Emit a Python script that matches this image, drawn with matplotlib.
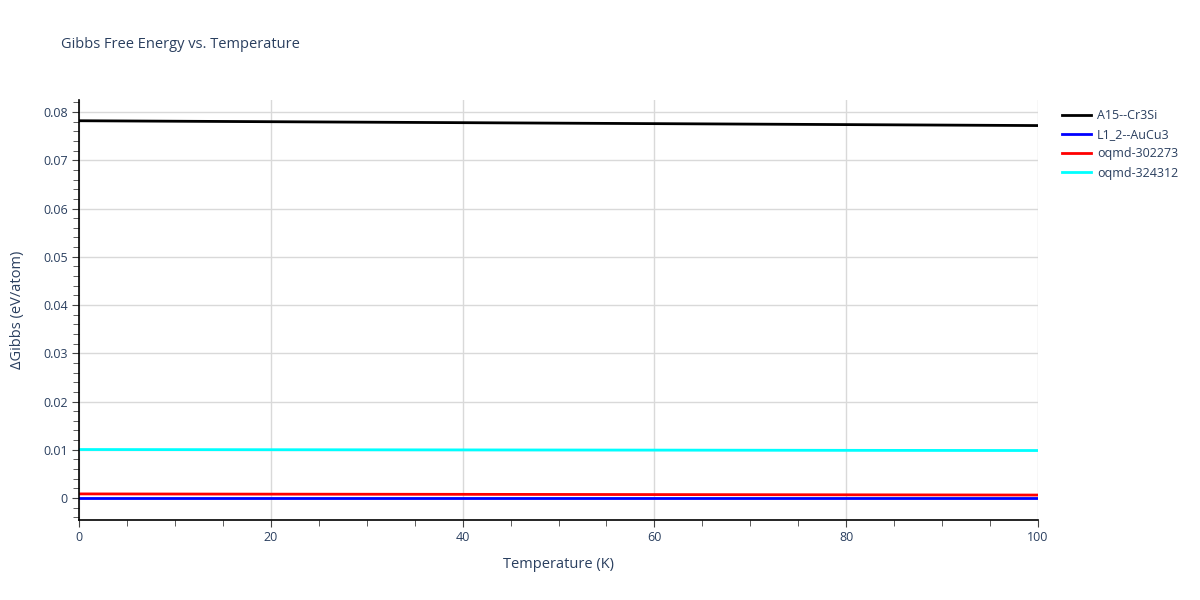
import numpy as np
import matplotlib.pyplot as plt
from matplotlib.ticker import MultipleLocator, FuncFormatter

# Temperature points (K)
temperature = [0, 20, 40, 60, 80, 100]

# Delta Gibbs values (eV/atom)
a15_cr3si = [0.0782, 0.0780, 0.0778, 0.0776, 0.0774, 0.0772]
l12_aucu3 = [0.0, 0.0, 0.0, 0.0, 0.0, 0.0]
oqmd_302273 = [0.00085, 0.00080, 0.00076, 0.00071, 0.00066, 0.00061]
oqmd_324312 = [0.01005, 0.01001, 0.00997, 0.00993, 0.00988, 0.00984]

series_names = ['A15--Cr3Si', 'L1_2--AuCu3', 'oqmd-302273', 'oqmd-324312']
series_colors = ['black', 'blue', 'red', 'cyan']

plt.rcParams['font.family'] = ['Open Sans', 'DejaVu Sans']
text_color = '#2a3f5f'

fig = plt.figure(figsize=(12, 6), dpi=100)
ax = fig.add_axes([79 / 1200, 80 / 600, (1038 - 79) / 1200, 420 / 600])

for name, color, vals in zip(series_names, series_colors,
                             [a15_cr3si, l12_aucu3, oqmd_302273, oqmd_324312]):
    ax.plot(temperature, vals, color=color, linewidth=2, label=name)

ax.set_xlim(0, 100)
ax.set_ylim(-0.00456, 0.0825)

ax.xaxis.set_major_locator(MultipleLocator(20))
ax.xaxis.set_minor_locator(MultipleLocator(5))
ax.yaxis.set_major_locator(MultipleLocator(0.01))
ax.yaxis.set_minor_locator(MultipleLocator(0.002))
ax.yaxis.set_major_formatter(FuncFormatter(lambda v, p: '%g' % round(v, 4)))

ax.grid(True, which='major', color='#d9d9d9', linewidth=1)
ax.set_axisbelow(True)

for side in ['top', 'right']:
    ax.spines[side].set_visible(False)
for side in ['left', 'bottom']:
    ax.spines[side].set_color('black')
    ax.spines[side].set_linewidth(1.2)

ax.tick_params(axis='both', which='major', length=5, color='#444444',
               labelsize=9, labelcolor=text_color, pad=3)
ax.tick_params(axis='both', which='minor', length=4, color='#444444')

ax.set_xlabel('Temperature (K)', fontsize=10.5, color=text_color, labelpad=9)
ax.set_ylabel('ΔGibbs (eV/atom)', fontsize=10.5, color=text_color, labelpad=13)

fig.text(61 / 1200, 1 - 45 / 600, 'Gibbs Free Energy vs. Temperature',
         fontsize=10.5, color=text_color, va='center', ha='left')

leg = ax.legend(loc='upper left', bbox_to_anchor=(1057 / 1200, 1 - 104 / 600),
                bbox_transform=fig.transFigure, frameon=False,
                fontsize=9, handlelength=2.3, labelspacing=0.5,
                handletextpad=0.5, borderaxespad=0)
for t in leg.get_texts():
    t.set_color(text_color)

fig.savefig('out.png', dpi=100)
